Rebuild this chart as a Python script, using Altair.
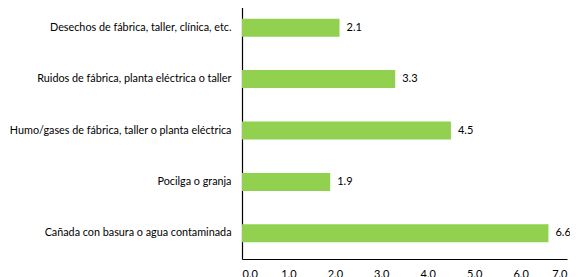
import altair as alt
import pandas as pd

categories = [
    "Desechos de fábrica, taller, clínica, etc.",
    "Ruidos de fábrica, planta eléctrica o taller",
    "Humo/gases de fábrica, taller o planta eléctrica",
    "Pocilga o granja",
    "Cañada con basura o agua contaminada",
]
values = [2.1, 3.3, 4.5, 1.9, 6.6]
x_ticks = [0, 1, 2, 3, 4, 5, 6, 7]

df = pd.DataFrame({"cat": categories, "val": values})

FONT = "Lato"
FS = 10.8

y = alt.Y(
    "cat:N",
    sort=categories,
    title=None,
    scale=alt.Scale(range=[-6, 251], paddingInner=0.65, paddingOuter=0.325),
    axis=alt.Axis(
        domainColor="#000000",
        domainWidth=1.2,
        ticks=False,
        labelPadding=11,
        labelFont=FONT,
        labelFontSize=FS,
        labelColor="#000000",
        labelLimit=400,
    ),
)
x = alt.X(
    "val:Q",
    title=None,
    scale=alt.Scale(domain=[0, 7], nice=False),
    axis=alt.Axis(
        values=x_ticks,
        format=".1f",
        grid=False,
        ticks=False,
        domainColor="#000000",
        domainWidth=1.2,
        labelPadding=9,
        labelFont=FONT,
        labelFontSize=11,
        labelColor="#000000",
    ),
)

bars = alt.Chart(df).mark_bar(color="#92D050").encode(x=x, y=y)
text = alt.Chart(df).mark_text(
    align="left", baseline="middle", dx=7, font=FONT, fontSize=11, color="#000000"
).encode(x=x, y=y, text=alt.Text("val:Q", format=".1f"))

chart = (
    alt.layer(bars, text)
    .properties(
        width=325,
        height=251,
        autosize=alt.AutoSizeParams(type="none"),
        padding={"left": 234, "top": 0, "right": 3, "bottom": 18},
    )
    .configure_view(stroke=None)
)

chart.save("out.html", embed_options={"renderer": "svg", "actions": False})
